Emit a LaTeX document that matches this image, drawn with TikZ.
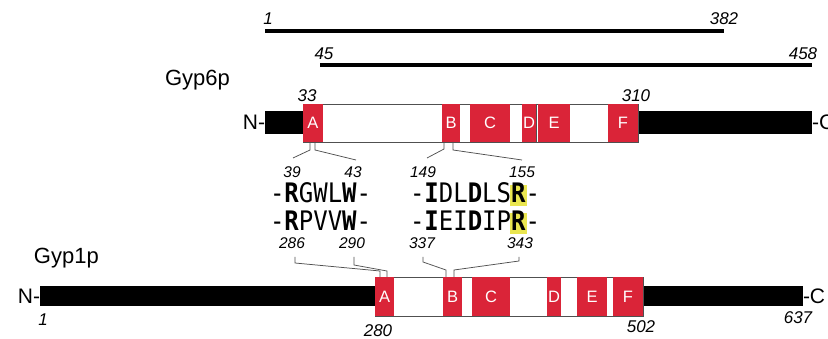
\documentclass[tikz,border=0pt]{standalone}
\usepackage{fontspec}
\setmainfont{Liberation Sans}
\newfontfamily\monof{DejaVu Sans Mono}
\definecolor{boxred}{RGB}{218,36,56}
\definecolor{hlyellow}{RGB}{234,230,80}
\definecolor{conncol}{RGB}{80,80,80}
\newcommand{\tallseq}[1]{\scalebox{1}[1.12]{#1}}
\begin{document}
\begin{tikzpicture}[x=1pt,y=-1pt,
  every node/.style={inner sep=0pt,outer sep=0pt},
  redbox/.style={fill=boxred,text=white,font=\fontsize{16.5}{16.5}\selectfont,minimum height=38pt},
  redboxb/.style={redbox,minimum height=39pt},
  framebox/.style={draw=conncol,line width=0.7pt,fill=white,minimum height=38pt},
  framebar/.style={framebox,minimum height=39pt},
  blackbar/.style={fill=black,minimum height=23pt},
  blackbarb/.style={fill=black,minimum height=20pt},
  endlbl/.style={font=\fontsize{21}{21}\selectfont},
  namelbl/.style={font=\fontsize{22}{22}\selectfont,anchor=base west},
  numlbl/.style={font=\itshape\fontsize{17}{17}\selectfont},
  smallnum/.style={font=\itshape\fontsize{15.5}{15.5}\selectfont},
  seqtxt/.style={font=\monof\fontsize{24}{24}\selectfont,anchor=base west},
  connline/.style={draw=conncol,line width=0.75pt},
  rangeline/.style={line width=4pt,black},
  hlbox/.style={fill=hlyellow,minimum width=17pt,minimum height=21pt}
]
\useasboundingbox (0,0) rectangle (828,339);

% top range lines
\coordinate (r1a) at (265,31);
\coordinate (r1b) at (724,31);
\coordinate (r2a) at (320,65);
\coordinate (r2b) at (812,65);
\draw[rangeline] (r1a) -- (r1b);
\draw[rangeline] (r2a) -- (r2b);
\node[numlbl] (n1) at (268,19) {1};
\node[numlbl] (n382) at (724,19) {382};
\node[numlbl] (n45) at (324,54) {45};
\node[numlbl] (n458) at (803,54) {458};

% Gyp6p
\node[namelbl] (g6) at (165,86) {Gyp6p};
\node[blackbar,minimum width=38pt] (L6) at (284,122.5) {};
\node[blackbar,minimum width=174pt] (R6) at (725,122.5) {};
\node[framebox,minimum width=335pt] (F6) at (470.5,123) {};
\node[redbox,minimum width=20pt] (A6) at (313,123) {A};
\node[redbox,minimum width=18pt] (B6) at (451,123) {B};
\node[redbox,minimum width=40pt] (C6) at (490,123) {C};
\node[redbox,minimum width=14pt] (D6) at (529,123) {D};
\node[redbox,minimum width=32pt] (E6) at (554,123) {E};
\node[redbox,minimum width=30pt] (Fb6) at (623,123) {F};
\draw[conncol,line width=0.6pt] (D6.north east) -- (D6.south east);
\node[endlbl,anchor=east] (N6) at (L6.west) {N-};
\node[endlbl,anchor=west] (C6e) at (R6.east) {-C};
\node[numlbl] (n33) at (307,96) {33};
\node[numlbl] (n310) at (636,96) {310};

% Gyp1p
\node[namelbl] (g1) at (34,264) {Gyp1p};
\node[blackbarb,minimum width=335pt] (L1) at (207.5,296) {};
\node[blackbarb,minimum width=160pt] (R1) at (723,296) {};
\node[framebar,minimum width=268pt] (F1) at (509,296.5) {};
\node[redboxb,minimum width=19pt] (A1) at (384.5,296.5) {A};
\node[redboxb,minimum width=19pt] (B1) at (452.5,296.5) {B};
\node[redboxb,minimum width=38pt] (C1) at (491,296.5) {C};
\node[redboxb,minimum width=14pt] (D1) at (554,296.5) {D};
\node[redboxb,minimum width=30pt] (E1) at (592,296.5) {E};
\node[redboxb,minimum width=30pt] (Fb1) at (628,296.5) {F};
\node[endlbl,anchor=east] (N1) at (L1.west) {N-};
\node[endlbl,anchor=west] (C1e) at (R1.east) {-C};
\node[numlbl] (m1) at (43,320) {1};
\node[numlbl] (m280) at (378,331) {280};
\node[numlbl] (m502) at (641,327) {502};
\node[numlbl] (m637) at (798,318) {637};

% sequences
\node[hlbox] (hl1) at (518.5,195.5) {};
\node[hlbox] (hl2) at (518.5,223.5) {};
\node[seqtxt] (s1) at (270,203) {\tallseq{-\textbf{R}GWL\textbf{W}-}};
\node[seqtxt] (s2) at (410,203) {\tallseq{-\textbf{I}DL\textbf{D}LS\textbf{R}-}};
\node[seqtxt] (s3) at (270,231) {\tallseq{-\textbf{R}PVV\textbf{W}-}};
\node[seqtxt] (s4) at (410,231) {\tallseq{-\textbf{I}EI\textbf{D}IP\textbf{R}-}};
\node[smallnum] (k39) at (292,172) {39};
\node[smallnum] (k43) at (353,172) {43};
\node[smallnum] (k149) at (423,172) {149};
\node[smallnum] (k155) at (522,172) {155};
\node[smallnum] (k286) at (292,243) {286};
\node[smallnum] (k290) at (352,243) {290};
\node[smallnum] (k337) at (422,243) {337};
\node[smallnum] (k343) at (520,243) {343};

% upper connectors
\coordinate (u1) at (310,142); \coordinate (u1e) at (293,158);
\coordinate (u2) at (315,142); \coordinate (u2e) at (356,160);
\coordinate (u3) at (444,142); \coordinate (u3e) at (427,158);
\coordinate (u4) at (453,142); \coordinate (u4e) at (522,160);
\draw[connline] (u1) -- ++(0,8) -- (u1e);
\draw[connline] (u2) -- ++(0,8) -- (u2e);
\draw[connline] (u3) -- ++(0,7) -- (u3e);
\draw[connline] (u4) -- ++(0,8) -- (u4e);

% lower connectors
\coordinate (l1) at (295,257); \coordinate (l1e) at (380,277);
\coordinate (l2) at (354,257); \coordinate (l2e) at (387,277);
\coordinate (l3) at (423,257); \coordinate (l3e) at (446,277);
\coordinate (l4) at (519,257); \coordinate (l4e) at (454,277);
\draw[connline] (l1) -- ++(0,6) -- (380,271) -- (l1e);
\draw[connline] (l2) -- ++(0,8) -- (387,271) -- (l2e);
\draw[connline] (l3) -- ++(0,5) -- (446,270) -- (l3e);
\draw[connline] (l4) -- ++(0,4) -- (454,270) -- (l4e);
\end{tikzpicture}
\end{document}
